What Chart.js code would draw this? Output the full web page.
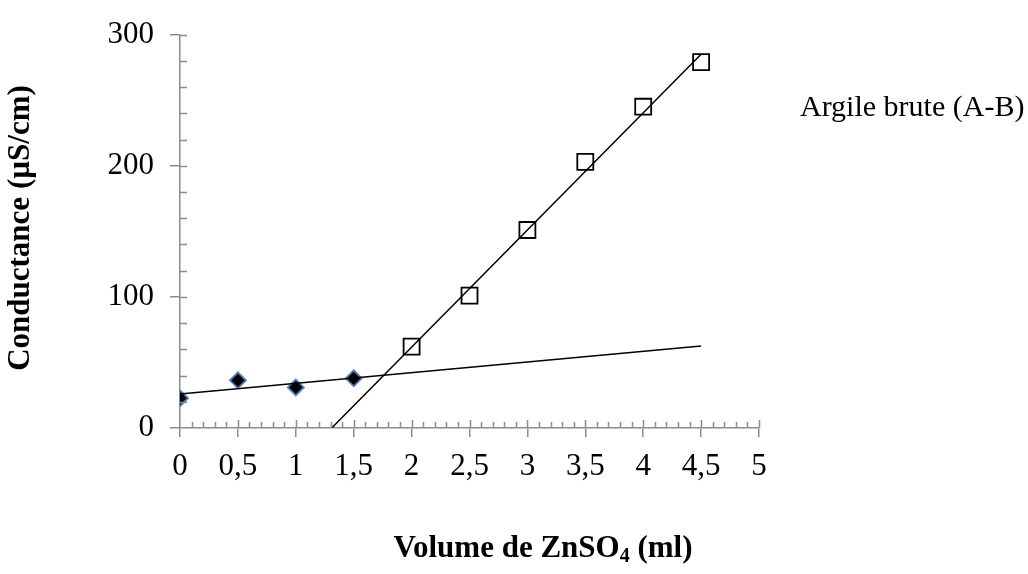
<!DOCTYPE html>
<html>
<head>
<meta charset="utf-8">
<script src="https://cdn.jsdelivr.net/npm/chart.js@4.4.0/dist/chart.umd.min.js"></script>
<style>
body { margin: 0; background: #fff; }
#wrap { width: 1028px; height: 574px; }
</style>
</head>
<body>
<div id="wrap"><canvas id="line-chart"></canvas></div>
<script>
// points
xBrut1 = [0, 0.5, 1, 1.5]
yBrut1 = [22.7, 36.4, 30.9, 37.9]
xBrut2 = [2, 2.5, 3, 3.5, 4, 4.5]
yBrut2 = [62, 101, 151, 203, 245, 279]

// droites tracees (extremites)
xDroite1 = [0, 4.5]
yDroite1 = [26, 62.5]
xDroite2 = [1.31, 4.5]
yDroite2 = [0, 285]

xTicks = ['0', '0,5', '1', '1,5', '2', '2,5', '3', '3,5', '4', '4,5', '5']
yTicks = ['0', '100', '200', '300']
legende = 'Argile brute (A-B)'
titreY = 'Conductance (µS/cm)'

gris = '#8c8c8c'
police = "'Liberation Serif', 'Times New Roman', serif"

function points(xs, ys) {
    var res = []
    for (var i = 0; i < xs.length; i++) {
        res.push({x: xs[i], y: ys[i]})
    }
    return res
}

var decor = {
    id: 'decor',
    afterDraw: function(chart) {
        var ctx = chart.ctx
        var sx = chart.scales.x
        var sy = chart.scales.y
        var bas = sy.getPixelForValue(0)
        var gauche = sx.getPixelForValue(0)
        ctx.save()
        ctx.strokeStyle = gris
        ctx.lineWidth = 1.5
        ctx.beginPath()
        // petites graduations x (vers le haut)
        for (var i = 1; i <= 50; i++) {
            var px = Math.round(sx.getPixelForValue(i / 10)) + 0.5
            var h = (i % 5 == 0) ? 8 : 6
            ctx.moveTo(px, bas)
            ctx.lineTo(px, bas - h)
        }
        // petites graduations y (vers la droite)
        for (var v = 20; v <= 300; v += 20) {
            var py = Math.round(sy.getPixelForValue(v)) + 0.5
            ctx.moveTo(gauche, py)
            ctx.lineTo(gauche + 7, py)
        }
        ctx.stroke()

        ctx.fillStyle = '#000'
        // legende
        ctx.font = '30px ' + police
        ctx.textBaseline = 'middle'
        ctx.textAlign = 'left'
        ctx.fillText(legende, 800, 108)

        // titre axe x avec indice
        ctx.font = 'bold 31px ' + police
        var t1 = 'Volume de ZnSO'
        var t2 = '4'
        var t3 = ' (ml)'
        var w1 = ctx.measureText(t1).width
        var w3 = ctx.measureText(t3).width
        ctx.font = 'bold 20px ' + police
        var w2 = ctx.measureText(t2).width
        var x0 = 543 - (w1 + w2 + w3) / 2
        var yb = 557
        ctx.textBaseline = 'alphabetic'
        ctx.font = 'bold 31px ' + police
        ctx.fillText(t1, x0, yb)
        ctx.font = 'bold 20px ' + police
        ctx.fillText(t2, x0 + w1, yb + 5)
        ctx.font = 'bold 31px ' + police
        ctx.fillText(t3, x0 + w1 + w2, yb)

        // titre axe y
        ctx.translate(21, 228)
        ctx.rotate(-Math.PI / 2)
        ctx.font = 'bold 31px ' + police
        ctx.textAlign = 'center'
        ctx.textBaseline = 'middle'
        ctx.fillText(titreY, 0, 0)
        ctx.restore()
    }
}

new Chart(document.getElementById("line-chart"), {
    type: 'scatter',
    data: {
        datasets: [{
            label: 'droite 1',
            data: points(xDroite1, yDroite1),
            showLine: true,
            borderColor: '#000',
            borderWidth: 1.5,
            pointRadius: 0,
            order: 1
        }, {
            label: 'droite 2',
            data: points(xDroite2, yDroite2),
            showLine: true,
            borderColor: '#000',
            borderWidth: 1.5,
            pointRadius: 0,
            order: 1
        }, {
            label: legende,
            data: points(xBrut1, yBrut1),
            pointStyle: 'rectRot',
            pointRadius: 8,
            backgroundColor: '#000',
            borderColor: '#4f81bd',
            borderWidth: 1.8,
            order: 2
        }, {
            label: legende,
            data: points(xBrut2, yBrut2),
            pointStyle: 'rect',
            pointRadius: 11.3,
            backgroundColor: 'rgba(0,0,0,0)',
            borderColor: '#000',
            borderWidth: 1.8,
            order: 2
        }]
    },
    options: {
        responsive: true,
        maintainAspectRatio: false,
        animation: false,
        layout: {
            padding: {left: 0, top: 27, right: 269, bottom: 0}
        },
        plugins: {
            legend: {display: false},
            tooltip: {enabled: false}
        },
        scales: {
            x: {
                type: 'linear',
                min: 0,
                max: 5,
                afterFit: function(scale) { scale.height = 146 },
                border: {color: gris, width: 1.5},
                grid: {drawOnChartArea: false, color: gris, lineWidth: 1.5, tickLength: 9},
                ticks: {
                    stepSize: 0.5,
                    padding: 11,
                    color: '#000',
                    font: {family: police, size: 31},
                    callback: function(value, index) { return xTicks[index] }
                }
            },
            y: {
                type: 'linear',
                min: 0,
                max: 300,
                afterFit: function(scale) { scale.width = 180 },
                border: {color: gris, width: 1.5},
                grid: {drawOnChartArea: false, color: gris, lineWidth: 1.5, tickLength: 10},
                ticks: {
                    stepSize: 100,
                    padding: 16,
                    color: '#000',
                    font: {family: police, size: 31},
                    callback: function(value, index) { return yTicks[index] }
                }
            }
        }
    },
    plugins: [decor]
});
</script>
</body>
</html>
